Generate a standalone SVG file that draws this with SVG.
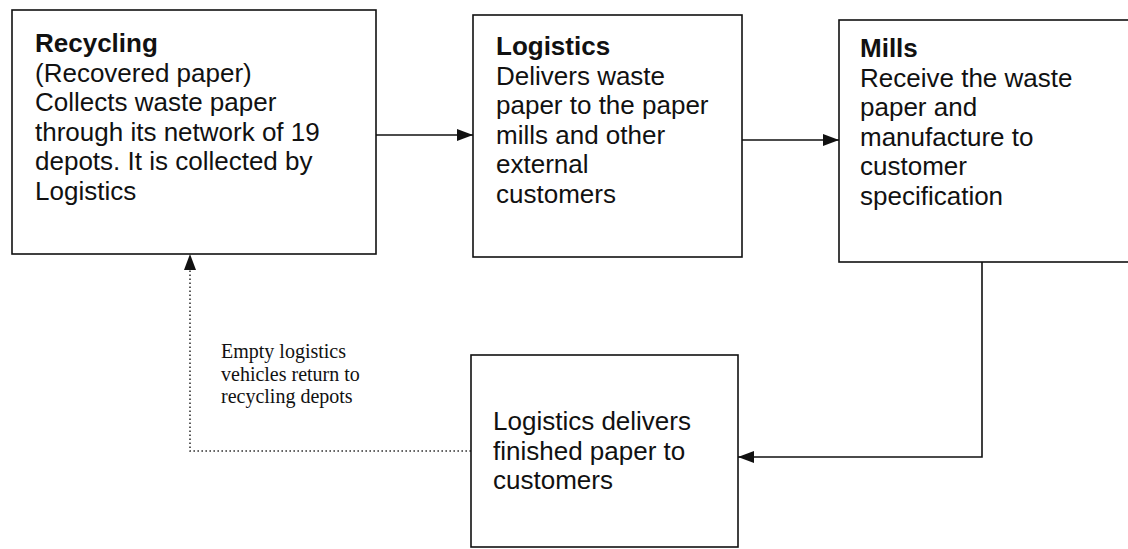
<svg xmlns="http://www.w3.org/2000/svg" width="1128" height="549" viewBox="0 0 1128 549">
  <style>
    .box { fill: #ffffff; stroke: #111111; stroke-width: 1.6; }
    .t { font-family: "Liberation Sans", Arial, sans-serif; font-size: 26px; fill: #111111; }
    .b { font-weight: bold; }
    .note { font-family: "Liberation Serif", "Times New Roman", serif; font-size: 20px; fill: #111111; }
    .link { fill: none; stroke: #111111; stroke-width: 1.6; }
    .dots { fill: none; stroke: #333333; stroke-width: 1.6; stroke-dasharray: 1.6 2.4; }
  </style>
  <defs>
    <marker id="head" viewBox="0 0 16 12" refX="16" refY="6" markerWidth="16" markerHeight="12" markerUnits="userSpaceOnUse" orient="auto">
      <path d="M0,0 L16,6 L0,12 Z" fill="#111111"/>
    </marker>
  </defs>
  <rect width="1128" height="549" fill="#ffffff"/>

  <g id="connectors">
    <line class="link" x1="376" y1="135" x2="473" y2="135" marker-end="url(#head)"/>
    <line class="link" x1="742" y1="140" x2="839" y2="140" marker-end="url(#head)"/>
    <polyline class="link" points="982,262 982,457 738,457" marker-end="url(#head)"/>
    <polyline class="dots" points="471,451 190,451 190,270"/>
    <path d="M190,254 L184,270 L196,270 Z" fill="#111111"/>
  </g>

  <g id="recycling">
    <rect class="box" x="12" y="10" width="364" height="244"/>
    <text class="t" x="35" y="52"><tspan class="b">Recycling</tspan>
      <tspan x="35" dy="29.6">(Recovered paper)</tspan>
      <tspan x="35" dy="29.6">Collects waste paper</tspan>
      <tspan x="35" dy="29.6">through its network of 19</tspan>
      <tspan x="35" dy="29.6">depots. It is collected by</tspan>
      <tspan x="35" dy="29.6">Logistics</tspan></text>
  </g>

  <g id="logistics">
    <rect class="box" x="473" y="15" width="269" height="242"/>
    <text class="t" x="496" y="55"><tspan class="b">Logistics</tspan>
      <tspan x="496" dy="29.6">Delivers waste</tspan>
      <tspan x="496" dy="29.6">paper to the paper</tspan>
      <tspan x="496" dy="29.6">mills and other</tspan>
      <tspan x="496" dy="29.6">external</tspan>
      <tspan x="496" dy="29.6">customers</tspan></text>
  </g>

  <g id="mills">
    <rect class="box" x="839" y="20" width="300" height="242"/>
    <text class="t" x="860" y="57"><tspan class="b">Mills</tspan>
      <tspan x="860" dy="29.6">Receive the waste</tspan>
      <tspan x="860" dy="29.6">paper and</tspan>
      <tspan x="860" dy="29.6">manufacture to</tspan>
      <tspan x="860" dy="29.6">customer</tspan>
      <tspan x="860" dy="29.6">specification</tspan></text>
  </g>

  <g id="delivery">
    <rect class="box" x="471" y="355" width="267" height="192"/>
    <text class="t" x="493" y="430">Logistics delivers
      <tspan x="493" dy="29.6">finished paper to</tspan>
      <tspan x="493" dy="29.6">customers</tspan></text>
  </g>

  <g id="return-label">
    <text class="note" x="221" y="358">Empty logistics
      <tspan x="221" dy="22.5">vehicles return to</tspan>
      <tspan x="221" dy="22.5">recycling depots</tspan></text>
  </g>
</svg>
